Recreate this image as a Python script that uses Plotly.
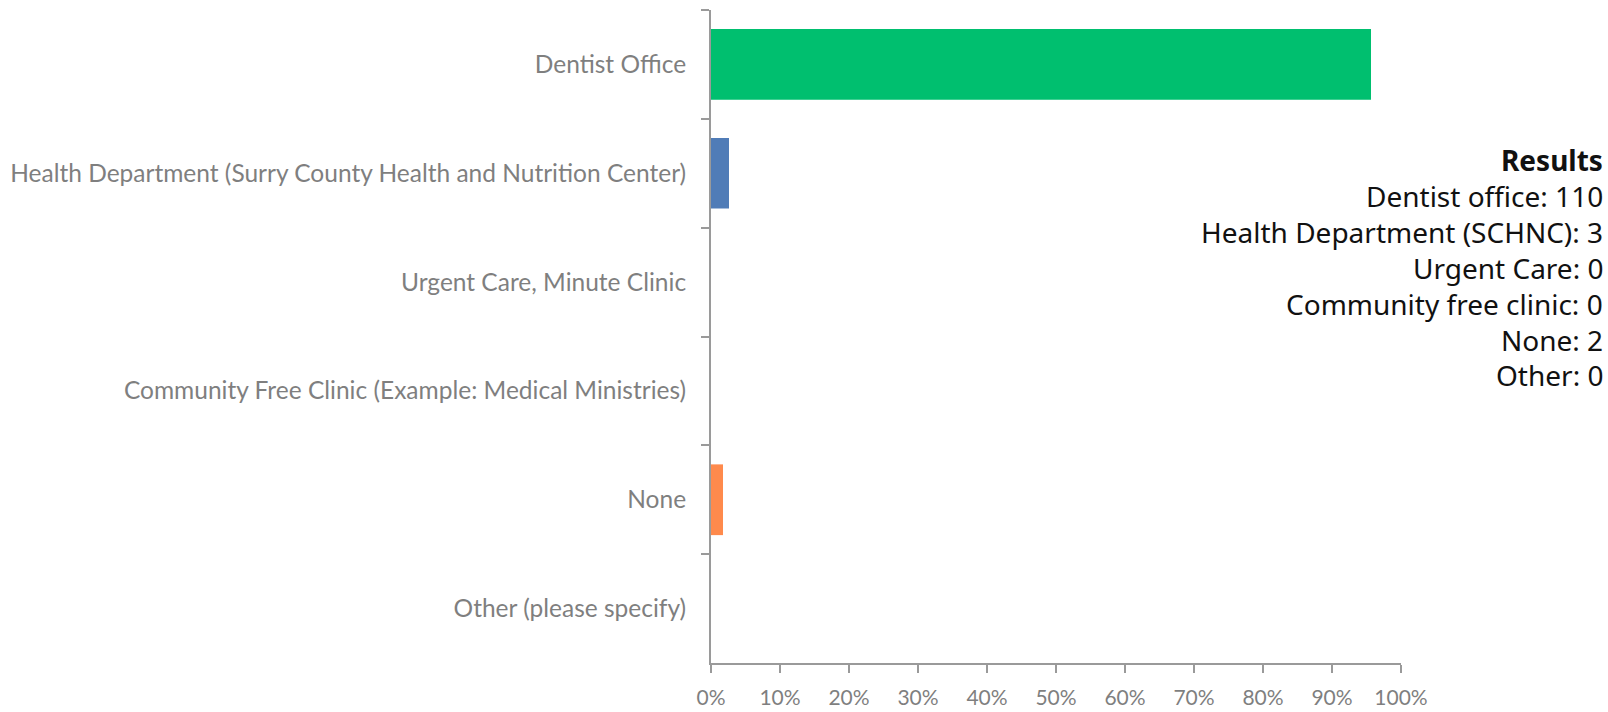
import plotly.graph_objects as go

# Survey categories, top to bottom
categories = [
    "Dentist Office",
    "Health Department (Surry County Health and Nutrition Center)",
    "Urgent Care, Minute Clinic",
    "Community Free Clinic (Example: Medical Ministries)",
    "None",
    "Other (please specify)",
]
short_names = [
    "Dentist office",
    "Health Department (SCHNC)",
    "Urgent Care",
    "Community free clinic",
    "None",
    "Other",
]
counts = [110, 3, 0, 0, 2, 0]
bar_colors = ["#00BF6F", "#507CB7", "#507CB7", "#507CB7", "#FF8A4C", "#507CB7"]

x_ticks = list(range(0, 101, 10))

total = sum(counts)
percents = [c / total * 100 for c in counts]

axis_color = "#9A9A9A"
y_font = dict(family="Lato, 'Open Sans', sans-serif", size=24.5, color="#7F7F7F")
x_font = dict(family="Lato, 'Open Sans', sans-serif", size=21, color="#7F7F7F")

fig = go.Figure(
    go.Bar(
        x=percents,
        y=categories,
        orientation="h",
        marker=dict(color=bar_colors, line=dict(width=0)),
        hoverinfo="skip",
    )
)

fig.update_layout(
    width=1608,
    height=712,
    margin=dict(l=711, r=207, t=10, b=49),
    paper_bgcolor="white",
    plot_bgcolor="white",
    bargap=0.35,
    showlegend=False,
    xaxis=dict(
        range=[0, 100],
        tickvals=x_ticks,
        ticktext=[f"{v}%" for v in x_ticks],
        showgrid=False,
        zeroline=False,
        showline=True,
        linecolor=axis_color,
        linewidth=2,
        ticks="outside",
        ticklen=8,
        tickwidth=2,
        tickcolor=axis_color,
        tickfont=x_font,
        ticklabelstandoff=7,
        automargin=False,
        fixedrange=True,
    ),
    yaxis=dict(
        categoryorder="array",
        categoryarray=categories,
        autorange="reversed",
        showgrid=False,
        zeroline=False,
        showline=True,
        linecolor=axis_color,
        linewidth=2,
        ticks="outside",
        tickson="boundaries",
        ticklen=8,
        tickwidth=2,
        tickcolor=axis_color,
        tickfont=y_font,
        ticklabelstandoff=18,
        automargin=False,
        fixedrange=True,
    ),
)

# Results summary block on the right
result_font = dict(family="'Noto Sans', 'Open Sans', sans-serif", size=28, color="#111111")
line_step = 35.9
top_y = 160
right_x = (1605 - 711) / 690
fig.add_annotation(
    text="<b>Results</b>",
    xref="paper", yref="paper",
    x=right_x, y=(663 - top_y) / 653,
    xanchor="right", yanchor="middle",
    showarrow=False, font=result_font, align="right",
)
for i, (name, c) in enumerate(zip(short_names, counts)):
    y_px = top_y + line_step * (i + 1)
    fig.add_annotation(
        text=f"{name}: {c}",
        xref="paper", yref="paper",
        x=right_x, y=(663 - y_px) / 653,
        xanchor="right", yanchor="middle",
        showarrow=False, font=result_font, align="right",
    )

fig.write_html("out.html", config={"displayModeBar": False})
